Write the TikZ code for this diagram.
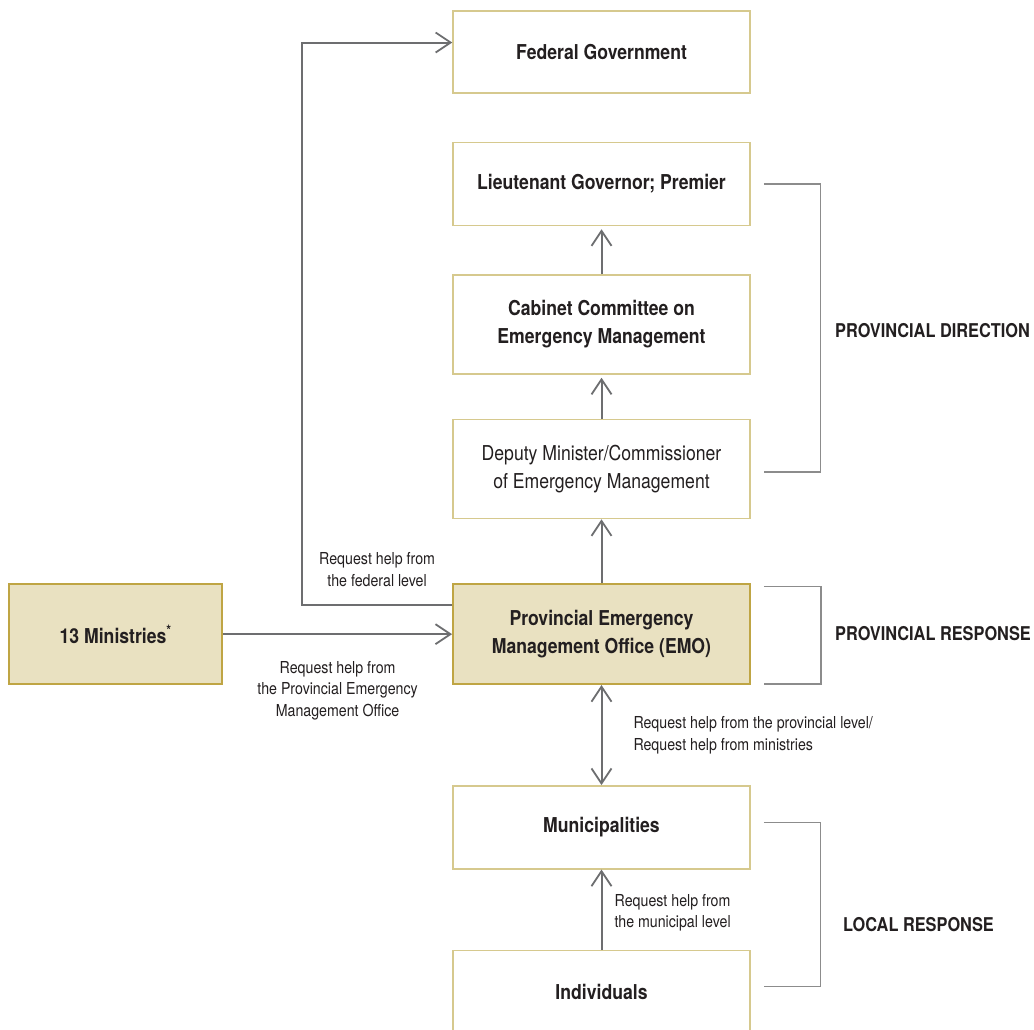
\documentclass[tikz,border=0pt]{standalone}
\usepackage{fontspec}
\setmainfont[FakeStretch=0.86]{TeX Gyre Heros}
\usepackage{tikz}
\usetikzlibrary{arrows.meta, positioning}

\definecolor{boxline}{HTML}{D6C98E}
\definecolor{emofill}{HTML}{E9E1C1}
\definecolor{emoline}{HTML}{BFA544}
\definecolor{arrowgray}{HTML}{6D6E70}
\definecolor{bracketgray}{HTML}{8C8C8C}
\definecolor{inktext}{HTML}{231F20}

\begin{document}
\begin{tikzpicture}[
    x=1pt, y=-1pt,
    level/.style={rectangle, minimum width=297pt, minimum height=82pt, draw=boxline, line width=1.5pt, text=inktext, align=center, font=\bfseries\fontsize{20.5}{28}\selectfont},
    tallbox/.style={level, minimum height=99pt},
    plainbox/.style={tallbox, font=\fontsize{20.5}{28}\selectfont},
    keybox/.style={level, minimum height=100pt, fill=emofill, draw=emoline, line width=1.8pt},
    note/.style={text=inktext, align=center, inner sep=0pt, font=\fontsize{16.5}{21.5}\selectfont},
    tier/.style={text=inktext, anchor=west, inner sep=0pt, font=\bfseries\fontsize{19}{22}\selectfont},
    arrow/.style={draw=arrowgray, line width=2pt, -{Straight Barb[length=15pt, width=20pt, line width=1.8pt]}},
    twoway/.style={arrow, {Straight Barb[length=15pt, width=20pt, line width=1.8pt]}-{Straight Barb[length=15pt, width=20pt, line width=1.8pt]}},
    brace/.style={draw=bracketgray, line width=1.3pt}
]
\useasboundingbox (0,0) rectangle (1034,1029);
\fill[white] (0,0) rectangle (1034,1029);
\clip (0,0) rectangle (1034,1029);

\node[level] (fed) at (601.5,52) {Federal Government};
\node[level, minimum height=83pt, below=48pt of fed] (lt) {Lieutenant Governor; Premier};
\node[tallbox, below=48pt of lt] (cabinet) {Cabinet Committee on\\Emergency Management};
\node[plainbox, below=44pt of cabinet] (deputy) {Deputy Minister/Commissioner\\of Emergency Management};
\node[keybox, below=64pt of deputy] (emo) {Provincial Emergency\\Management Office (EMO)};
\node[keybox, minimum width=213pt, left=229pt of emo] (mins) {13 Ministries\textsuperscript{*}};
\node[level, minimum height=83pt, below=100pt of emo] (muni) {Municipalities};
\node[level, minimum height=83pt, below=80pt of muni] (indiv) {Individuals};

% Tier labels
\node[tier] (dirlabel) at (835,331) {PROVINCIAL DIRECTION};
\node[tier] (reslabel) at (835,634) {PROVINCIAL RESPONSE};
\node[tier] (loclabel) at (843,925) {LOCAL RESPONSE};

% Brackets
\draw[brace] ([xshift=13pt]lt.east) -- ++(57,0) |- ([xshift=13pt, yshift=-3pt]deputy.east);
\draw[brace] ([xshift=13pt, yshift=-3pt]emo.north east) -- ++(57,0) |- ([xshift=13pt, yshift=1pt]emo.south east);
\draw[brace] ([xshift=13pt, yshift=5pt]muni.east) -- ++(57,0) |- ([xshift=13pt, yshift=5pt]indiv.east);

% Connectors
\draw[arrow, shorten >=3pt] (cabinet.north) -- (lt.south);
\draw[arrow, shorten >=3pt] (deputy.north) -- (cabinet.south);
\draw[arrow] (emo.north) -- (deputy.south);
\draw[twoway] (emo.south) -- node[note, right=31pt, align=left] {Request help from the provincial level/\\Request help from ministries} (muni.north);
\draw[arrow] (indiv.north) -- node[note, right=12pt, yshift=-3pt] {Request help from\\the municipal level} (muni.south);
\draw[arrow] (mins.east) -- node[note, below=26pt] {Request help from\\the Provincial Emergency\\Management Office} (emo.west);
\draw[arrow] ([yshift=29.5pt]emo.west) -- node[note, above=17pt] {Request help from\\the federal level} ++(-150,0) |- ([yshift=9.5pt]fed.west);

\end{tikzpicture}
\end{document}
